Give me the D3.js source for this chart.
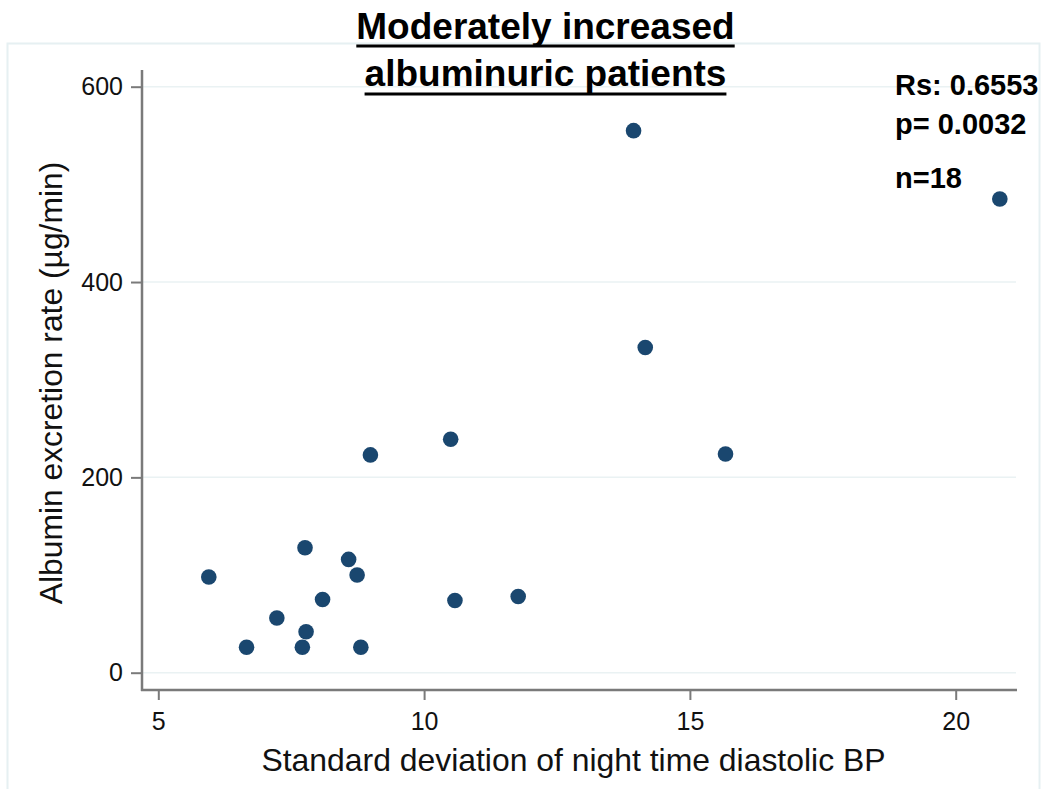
<!DOCTYPE html>
<html>
<head>
<meta charset="utf-8">
<script src="https://cdn.jsdelivr.net/npm/d3@7"></script>
<style>
  html, body { margin: 0; padding: 0; background: #fff; }
  svg { display: block; font-family: "Liberation Sans", Arial, sans-serif; }
</style>
</head>
<body>
<svg id="chart" width="1042" height="789"></svg>
<script>
// ---- data ----
const sdNightDiastolic = [5.95, 6.66, 7.23, 7.71, 7.76, 7.78, 8.09, 8.58, 8.74, 8.81, 8.99, 10.50, 10.58, 11.77, 13.94, 14.16, 15.67, 20.83];
const albuminExcretion = [98, 26, 56, 26, 128, 42, 75, 116, 100, 26, 223, 239, 74, 78, 555, 333, 224, 485];
const xTicks = [5, 10, 15, 20];
const yTicks = [0, 200, 400, 600];
const titleLines = ["Moderately increased", "albuminuric patients"];
const statLines = ["Rs: 0.6553", "p= 0.0032", "n=18"];
const xTitle = "Standard deviation of night time diastolic BP";
const yTitle = "Albumin excretion rate (\u00b5g/min)";

const points = sdNightDiastolic.map((x, i) => ({ x, y: albuminExcretion[i] }));

const svg = d3.select("#chart");

// layout
const plotLeft = 142, plotRight = 1017, plotTop = 70, plotBottom = 690;
const x = d3.scaleLinear().domain([5, 20]).range([158.3, 955.7]);
const y = d3.scaleLinear().domain([0, 600]).range([672.7, 86.7]);

// outer frame
svg.append("rect")
  .attr("x", 7.5).attr("y", 43.5).attr("width", 1032).attr("height", 770)
  .attr("fill", "none").attr("stroke", "#e6f0f2").attr("stroke-width", 2);

// gridlines
svg.append("g").selectAll("line").data(yTicks).join("line")
  .attr("x1", plotLeft + 1).attr("x2", plotRight - 1)
  .attr("y1", d => y(d)).attr("y2", d => y(d))
  .attr("stroke", "#eaf2f3").attr("stroke-width", 1.5);

const axisColor = "#7a7a7a";

// y axis
const yAxis = svg.append("g")
  .attr("transform", `translate(${plotLeft},0)`)
  .call(d3.axisLeft(y).tickValues(yTicks).tickSize(11).tickPadding(8).tickFormat(d3.format("d")));
yAxis.select(".domain").remove();
yAxis.selectAll(".tick line").attr("stroke", axisColor).attr("stroke-width", 2);
yAxis.selectAll(".tick text").attr("font-size", 25).attr("fill", "#111")
  .attr("font-family", "Liberation Sans, Arial, sans-serif");
svg.append("line").attr("x1", plotLeft).attr("x2", plotLeft)
  .attr("y1", plotTop).attr("y2", plotBottom + 1)
  .attr("stroke", axisColor).attr("stroke-width", 2.5);

// x axis
const xAxis = svg.append("g")
  .attr("transform", `translate(0,${plotBottom})`)
  .call(d3.axisBottom(x).tickValues(xTicks).tickSize(10).tickPadding(12).tickFormat(d3.format("d")));
xAxis.select(".domain").remove();
xAxis.selectAll(".tick line").attr("stroke", axisColor).attr("stroke-width", 2);
xAxis.selectAll(".tick text").attr("font-size", 25).attr("fill", "#111")
  .attr("font-family", "Liberation Sans, Arial, sans-serif");
svg.append("line").attr("x1", plotLeft - 1).attr("x2", plotRight)
  .attr("y1", plotBottom).attr("y2", plotBottom)
  .attr("stroke", axisColor).attr("stroke-width", 2.5);

// axis titles
svg.append("text")
  .attr("x", 573.5).attr("y", 771)
  .attr("text-anchor", "middle")
  .attr("font-size", 31.9).attr("fill", "#111")
  .text(xTitle);

svg.append("text")
  .attr("transform", "translate(62,383) rotate(-90)")
  .attr("text-anchor", "middle")
  .attr("font-size", 31.8).attr("fill", "#111")
  .text(yTitle);

// points
svg.append("g").selectAll("circle").data(points).join("circle")
  .attr("cx", d => x(d.x)).attr("cy", d => y(d.y))
  .attr("r", 7.8).attr("fill", "#1a476f");

// title with underline
const titleBaselines = [39, 86];
const underlineOffsets = [7, 8];
titleLines.forEach((t, i) => {
  const txt = svg.append("text")
    .attr("x", 545.5).attr("y", titleBaselines[i])
    .attr("text-anchor", "middle")
    .attr("font-size", 37).attr("font-weight", "bold").attr("fill", "#000")
    .text(t);
  const bb = txt.node().getBBox();
  svg.append("line")
    .attr("x1", bb.x).attr("x2", bb.x + bb.width)
    .attr("y1", titleBaselines[i] + underlineOffsets[i]).attr("y2", titleBaselines[i] + underlineOffsets[i])
    .attr("stroke", "#000").attr("stroke-width", 3);
});

// stats annotation
const statBaselines = [95, 134, 188];
svg.append("g").selectAll("text").data(statLines).join("text")
  .attr("x", 895).attr("y", (d, i) => statBaselines[i])
  .attr("font-size", 29).attr("font-weight", "bold").attr("fill", "#000")
  .text(d => d);
</script>
</body>
</html>
